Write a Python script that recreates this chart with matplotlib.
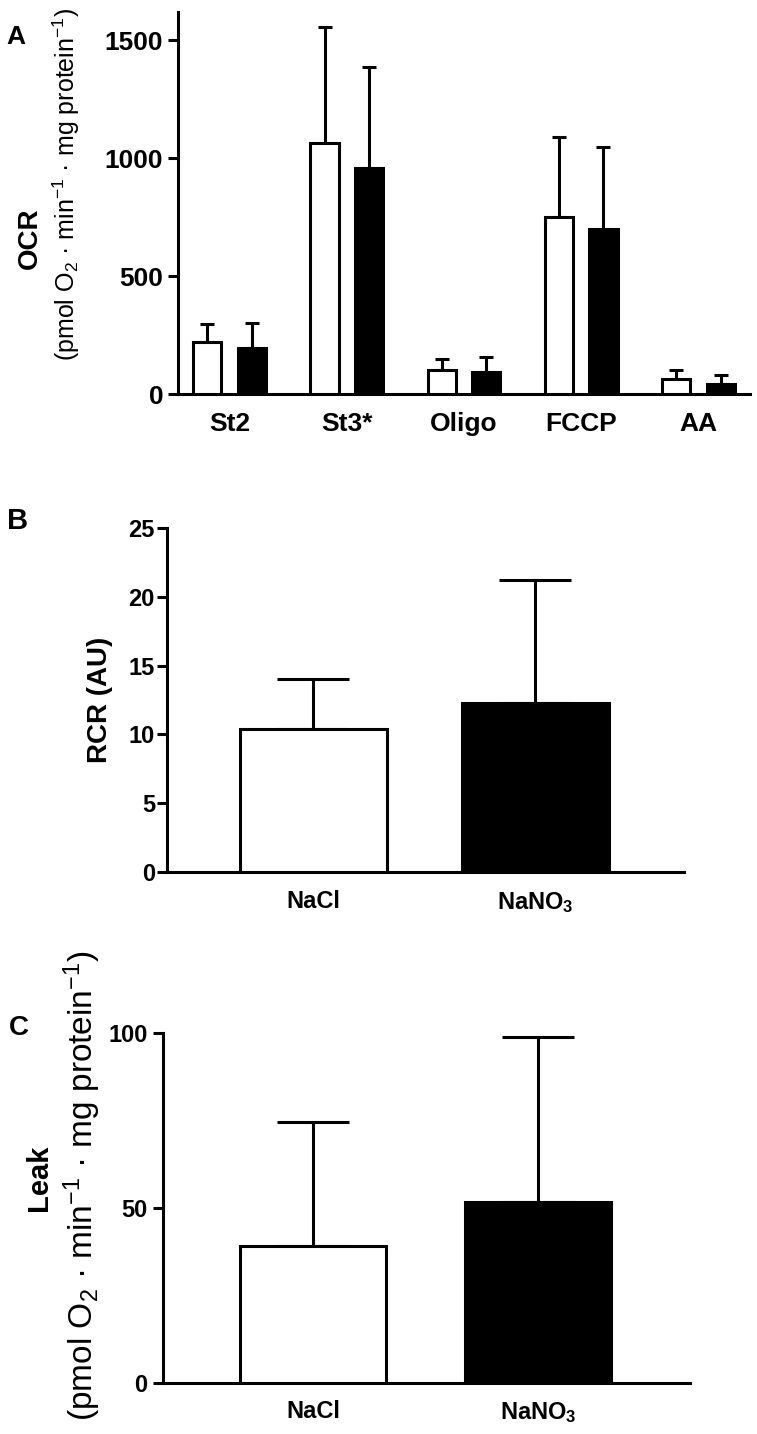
import numpy as np
import matplotlib
matplotlib.use("Agg")
import matplotlib.pyplot as plt

plt.rcParams['font.family'] = ['Liberation Sans', 'DejaVu Sans']
plt.rcParams['mathtext.fontset'] = 'custom'
plt.rcParams['mathtext.rm'] = 'Liberation Sans'
plt.rcParams['mathtext.default'] = 'regular'

# Panel A: OCR per state
states = ["St2", "St3*", "Oligo", "FCCP", "AA"]
ocr_nacl = [220, 1063, 102, 750, 64]
ocr_nacl_sd = [77, 492, 46, 339, 38]
ocr_nano3 = [195, 958, 93, 699, 42]
ocr_nano3_sd = [105, 428, 64, 348, 39]

# Panel B: RCR
groups = ["NaCl", "NaNO$_3$"]
rcr = [10.4, 12.25]
rcr_sd = [3.6, 9.0]

# Panel C: Leak
leak = [39.2, 51.7]
leak_sd = [35.4, 47.2]

W, H = 757, 1434
fig = plt.figure(figsize=(W / 100, H / 100), dpi=100)
lw = 2.2


def ax_at(left, right, top, bottom):
    return fig.add_axes([left / W, 1 - bottom / H, (right - left) / W, (bottom - top) / H])


def style(ax, fs, ypad, xpad):
    for s in ['top', 'right']:
        ax.spines[s].set_visible(False)
    for s in ['left', 'bottom']:
        ax.spines[s].set_linewidth(lw)
    ax.tick_params(axis='y', length=7.2, width=lw, labelsize=fs, pad=ypad)
    ax.tick_params(axis='x', length=0, labelsize=fs, pad=xpad)
    for lab in ax.get_xticklabels() + ax.get_yticklabels():
        lab.set_fontweight('bold')


def px(xp, yp):
    return xp / W, 1 - yp / H


unit2 = "(pmol O$_2$ · min$^{-1}$ · mg protein$^{-1}$)"

# ---- A ----
axA = ax_at(178, 750, 12, 394)
x = np.arange(len(states))
bw, off = 0.24, 0.19
axA.bar(x - off, ocr_nacl, bw, color='white', edgecolor='black', linewidth=lw, zorder=3)
axA.bar(x + off, ocr_nano3, bw, color='black', edgecolor='black', linewidth=lw, zorder=3)
axA.errorbar(x - off, ocr_nacl, yerr=[np.zeros(5), ocr_nacl_sd], fmt='none', ecolor='black',
             elinewidth=lw, capsize=5, capthick=lw, zorder=2)
axA.errorbar(x + off, ocr_nano3, yerr=[np.zeros(5), ocr_nano3_sd], fmt='none', ecolor='black',
             elinewidth=lw, capsize=5, capthick=lw, zorder=2)
axA.set_xlim(-0.44, 4.44)
axA.set_ylim(0, 1620)
axA.set_yticks([0, 500, 1000, 1500])
axA.set_xticks(x)
axA.set_xticklabels(states)
style(axA, 19, 3.5, 13)
fig.text(*px(30, 238), "OCR", fontsize=20, fontweight='bold', rotation=90, ha='center', va='center')
fig.text(*px(66, 184), unit2, fontsize=18, rotation=90, ha='center', va='center')
fig.text(*px(16, 37), "A", fontsize=19, fontweight='bold', ha='center', va='center')

# ---- B ----
axB = ax_at(167, 684, 528, 872)
xb = np.arange(len(groups))
axB.bar(xb, rcr, 0.66, color=['white', 'black'], edgecolor='black', linewidth=lw, zorder=3)
axB.errorbar(xb, rcr, yerr=[np.zeros(2), rcr_sd], fmt='none', ecolor='black',
             elinewidth=lw, capsize=26, capthick=lw, zorder=2)
axB.set_xlim(-0.66, 1.67)
axB.set_ylim(0, 25)
axB.set_yticks([0, 5, 10, 15, 20, 25])
axB.set_xticks(xb)
axB.set_xticklabels(groups)
style(axB, 17, 1.5, 13)
fig.text(*px(100, 700), "RCR (AU)", fontsize=20, fontweight='bold', rotation=90, ha='center', va='center')
fig.text(*px(18, 521), "B", fontsize=21, fontweight='bold', ha='center', va='center')

# ---- C ----
axC = ax_at(163, 690, 1033, 1383)
axC.bar(xb, leak, 0.65, color=['white', 'black'], edgecolor='black', linewidth=lw, zorder=3)
axC.errorbar(xb, leak, yerr=[np.zeros(2), leak_sd], fmt='none', ecolor='black',
             elinewidth=lw, capsize=26, capthick=lw, zorder=2)
axC.set_xlim(-0.667, 1.676)
axC.set_ylim(0, 100)
axC.set_yticks([0, 50, 100])
axC.set_xticks(xb)
axC.set_xticklabels(groups)
style(axC, 17, 4, 12)
fig.text(*px(39, 1178), "Leak", fontsize=21, fontweight='bold', rotation=90, ha='center', va='center')
fig.text(*px(82, 1186), unit2, fontsize=24, rotation=90, ha='center', va='center')
fig.text(*px(19, 1028), "C", fontsize=20, fontweight='bold', ha='center', va='center')

fig.savefig("out.png", dpi=100, facecolor='white')
